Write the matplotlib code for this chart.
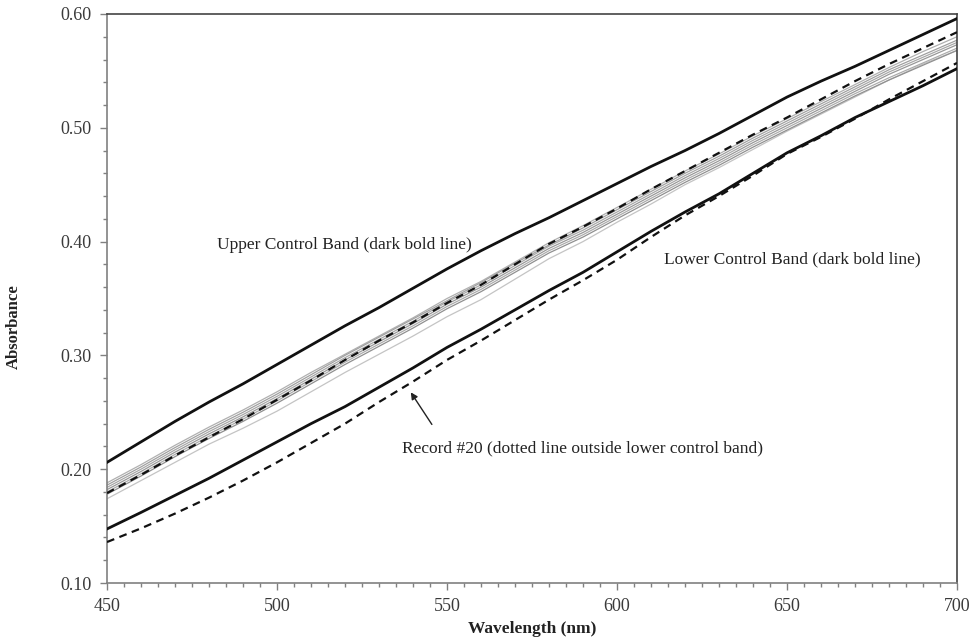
import matplotlib
matplotlib.use("Agg")
import matplotlib.pyplot as plt
from matplotlib.ticker import MultipleLocator, FormatStrFormatter

wavelength = [450, 460, 470, 480, 490, 500, 510, 520, 530, 540, 550, 560, 570,
              580, 590, 600, 610, 620, 630, 640, 650, 660, 670, 680, 690, 700]

upper_band = [0.206, 0.224, 0.242, 0.259, 0.275, 0.292, 0.309, 0.326, 0.342, 0.359,
              0.376, 0.392, 0.407, 0.421, 0.436, 0.451, 0.466, 0.480, 0.495, 0.511,
              0.527, 0.541, 0.554, 0.568, 0.582, 0.596]
lower_band = [0.1475, 0.162, 0.177, 0.192, 0.208, 0.224, 0.240, 0.255, 0.272, 0.289,
              0.307, 0.323, 0.340, 0.357, 0.373, 0.391, 0.409, 0.426, 0.442, 0.460,
              0.478, 0.493, 0.509, 0.523, 0.537, 0.552]
record_upper = [0.179, 0.195, 0.212, 0.228, 0.244, 0.261, 0.278, 0.296, 0.313, 0.329,
                0.346, 0.362, 0.380, 0.398, 0.413, 0.429, 0.446, 0.462, 0.478, 0.494,
                0.509, 0.525, 0.541, 0.556, 0.570, 0.584]
record_20 = [0.136, 0.148, 0.161, 0.175, 0.190, 0.206, 0.223, 0.240, 0.259, 0.277,
             0.296, 0.313, 0.331, 0.349, 0.366, 0.384, 0.404, 0.423, 0.440, 0.458,
             0.477, 0.492, 0.508, 0.525, 0.541, 0.557]

gray_1 = [0.188, 0.204, 0.221, 0.237, 0.252, 0.268, 0.285, 0.301, 0.317, 0.333, 0.350,
          0.365, 0.382, 0.399, 0.414, 0.430, 0.446, 0.462, 0.477, 0.493, 0.508, 0.523,
          0.538, 0.553, 0.567, 0.580]
gray_2 = [0.186, 0.202, 0.219, 0.235, 0.250, 0.266, 0.283, 0.300, 0.316, 0.332, 0.348,
          0.364, 0.381, 0.397, 0.412, 0.428, 0.444, 0.460, 0.475, 0.491, 0.506, 0.521,
          0.536, 0.551, 0.564, 0.577]
gray_3 = [0.184, 0.200, 0.217, 0.233, 0.248, 0.264, 0.281, 0.298, 0.314, 0.330, 0.347,
          0.362, 0.379, 0.396, 0.410, 0.426, 0.442, 0.458, 0.473, 0.489, 0.504, 0.519,
          0.534, 0.549, 0.562, 0.575]
gray_4 = [0.182, 0.198, 0.215, 0.231, 0.246, 0.262, 0.279, 0.296, 0.312, 0.328, 0.345,
          0.360, 0.377, 0.394, 0.408, 0.424, 0.440, 0.456, 0.471, 0.487, 0.502, 0.517,
          0.532, 0.547, 0.560, 0.573]
gray_5 = [0.180, 0.196, 0.213, 0.229, 0.244, 0.260, 0.277, 0.294, 0.310, 0.326, 0.343,
          0.358, 0.375, 0.392, 0.406, 0.422, 0.438, 0.454, 0.469, 0.485, 0.500, 0.515,
          0.530, 0.544, 0.557, 0.570]
gray_6 = [0.178, 0.194, 0.211, 0.227, 0.242, 0.258, 0.275, 0.292, 0.308, 0.324, 0.341,
          0.356, 0.373, 0.390, 0.404, 0.420, 0.436, 0.452, 0.467, 0.483, 0.498, 0.513,
          0.528, 0.542, 0.555, 0.568]
gray_7 = [0.174, 0.190, 0.206, 0.222, 0.236, 0.251, 0.268, 0.285, 0.301, 0.317, 0.334,
          0.349, 0.367, 0.385, 0.400, 0.417, 0.433, 0.450, 0.465, 0.481, 0.497, 0.512,
          0.527, 0.542, 0.556, 0.568]

gray_series = [gray_1, gray_2, gray_3, gray_4, gray_5, gray_6]
gray_colors = ["#b0b0b0", "#a0a0a0", "#a8a8a8", "#989898", "#acacac", "#909090"]

FONT = "Liberation Serif"

fig = plt.figure(figsize=(9.71, 6.41), dpi=100)
ax = fig.add_axes([107/971, 1 - 583/641, 850/971, 569/641])

ax.plot(wavelength, gray_7, color="#c4c4c4", lw=0.9, zorder=2)
for ys, c in zip(gray_series, gray_colors):
    ax.plot(wavelength, ys, color=c, lw=0.9, zorder=2)

ax.plot(wavelength, record_upper, color="#111111", lw=1.6, ls=(0, (3.5, 2.5)), zorder=3)
ax.plot(wavelength, record_20, color="#111111", lw=1.6, ls=(0, (3.5, 2.5)), zorder=3)
ax.plot(wavelength, upper_band, color="#111111", lw=2.0, zorder=4)
ax.plot(wavelength, lower_band, color="#111111", lw=2.0, zorder=4)

ax.set_xlim(450, 700)
ax.set_ylim(0.10, 0.60)
ax.xaxis.set_major_locator(MultipleLocator(50))
ax.xaxis.set_minor_locator(MultipleLocator(5))
ax.yaxis.set_major_locator(MultipleLocator(0.10))
ax.yaxis.set_minor_locator(MultipleLocator(0.02))
ax.yaxis.set_major_formatter(FormatStrFormatter("%.2f"))

for s in ["left", "bottom"]:
    ax.spines[s].set_color("#808080")
    ax.spines[s].set_linewidth(1.2)
for s in ["top", "right"]:
    ax.spines[s].set_color("#444444")
    ax.spines[s].set_linewidth(1.2)

ax.tick_params(which="major", direction="out", length=5, width=1, color="#808080",
               labelsize=13, labelcolor="#3a3a3a", pad=6)
ax.tick_params(which="minor", direction="out", length=3, width=1, color="#808080")
for lab in ax.get_xticklabels() + ax.get_yticklabels():
    lab.set_fontfamily(FONT)

ax.set_xlabel("Wavelength (nm)", fontfamily=FONT, fontweight="bold", fontsize=12.5,
              color="#222222", labelpad=4)
ax.set_ylabel("Absorbance", fontfamily=FONT, fontweight="bold", fontsize=12,
              color="#222222")
ax.yaxis.set_label_coords(-0.100, 0.45)

ax.text(482.4, 0.397, "Upper Control Band (dark bold line)", fontfamily=FONT,
        fontsize=12.5, color="#222222", va="center", ha="left")
ax.text(613.8, 0.3847, "Lower Control Band (dark bold line)", fontfamily=FONT,
        fontsize=12.5, color="#222222", va="center", ha="left")
ax.text(536.8, 0.2186, "Record #20 (dotted line outside lower control band)",
        fontfamily=FONT, fontsize=12.5, color="#222222", va="center", ha="left")
ax.annotate("", xy=(538.9, 0.2696), xytext=(546.0, 0.2373),
            arrowprops=dict(arrowstyle="-|>", color="#222222", lw=1.0,
                            mutation_scale=10))

fig.savefig("out.png", dpi=100)
